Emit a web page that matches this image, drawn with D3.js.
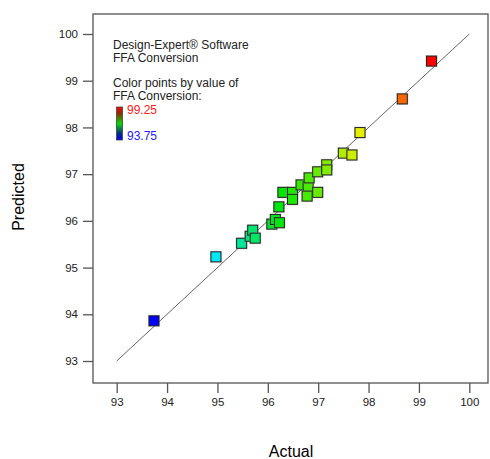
<!DOCTYPE html>
<html>
<head>
<meta charset="utf-8">
<script src="https://cdn.jsdelivr.net/npm/d3@7"></script>
<style>
  body { margin: 0; background: #fff; }
  svg { display: block; font-family: "Liberation Sans", Arial, sans-serif; }
</style>
</head>
<body>
<div id="chart"></div>
<script>
// actual vs predicted FFA conversion
var actual = [93.74, 94.97, 95.48, 95.65, 95.70, 95.75, 96.08, 96.15, 96.23, 96.22,
              96.30, 96.49, 96.49, 96.66, 96.80, 96.82, 96.78, 96.99, 96.99, 97.17,
              97.17, 97.50, 97.67, 97.83, 98.67, 99.25];
var predicted = [93.86, 95.23, 95.52, 95.67, 95.80, 95.63, 95.93, 96.03, 95.96, 96.30,
                 96.61, 96.61, 96.46, 96.77, 96.73, 96.92, 96.53, 96.61, 97.05, 97.20,
                 97.09, 97.45, 97.41, 97.89, 98.61, 99.42];
var ticks = [93, 94, 95, 96, 97, 98, 99, 100];
var colorStops = [93.75, 94.95, 96.3, 97.9, 99.25];
var colorNames = ["#0000ff", "#00e8ff", "#00e600", "#eef000", "#ff0000"];

var width = 490, height = 459;
var frame = {left: 93, top: 14, right: 488, bottom: 383};

var svg = d3.select("#chart").append("svg")
    .attr("width", width)
    .attr("height", height);

var x = d3.scaleLinear().domain([93, 100]).range([116.7, 469.3]);
var y = d3.scaleLinear().domain([93, 100]).range([361, 34]);
var color = d3.scaleLinear().domain(colorStops).range(colorNames);

// frame
svg.append("rect")
    .attr("x", frame.left).attr("y", frame.top)
    .attr("width", frame.right - frame.left).attr("height", frame.bottom - frame.top)
    .attr("fill", "none").attr("stroke", "#555").attr("stroke-width", 1.3);

// axes
var xAxis = svg.append("g")
    .attr("transform", "translate(0," + frame.bottom + ")")
    .call(d3.axisBottom(x).tickValues(ticks).tickSize(10).tickPadding(5).tickFormat(d3.format("d")));
var yAxis = svg.append("g")
    .attr("transform", "translate(" + frame.left + ",0)")
    .call(d3.axisLeft(y).tickValues(ticks).tickSize(10).tickPadding(5).tickFormat(d3.format("d")));

[xAxis, yAxis].forEach(function(g){
  g.select(".domain").remove();
  g.selectAll(".tick line").attr("stroke", "#555").attr("stroke-width", 1.3);
  g.selectAll(".tick text").attr("fill", "#222").style("font-size", "11.5px")
      .style("font-family", "Liberation Sans, Arial, sans-serif");
});

// axis titles
svg.append("text")
    .attr("x", 291).attr("y", 457)
    .attr("text-anchor", "middle")
    .style("font-size", "16px")
    .text("Actual");
svg.append("text")
    .attr("transform", "translate(24,197) rotate(-90)")
    .attr("text-anchor", "middle")
    .style("font-size", "16px")
    .text("Predicted");

// 45 degree line
svg.append("line")
    .attr("x1", x(93)).attr("y1", y(93))
    .attr("x2", x(100)).attr("y2", y(100))
    .attr("stroke", "#555").attr("stroke-width", 0.9);

// points
var pts = svg.append("g").selectAll("g")
    .data(actual.map(function(a, i){ return {a: a, p: predicted[i]}; }))
    .enter().append("g")
    .attr("transform", function(d){ return "translate(" + x(d.a) + "," + y(d.p) + ")"; });
pts.append("rect")
    .attr("x", -6).attr("y", -6).attr("width", 12).attr("height", 12)
    .attr("fill", "#999").attr("opacity", 0.45);
pts.append("rect")
    .attr("x", -5).attr("y", -5).attr("width", 10).attr("height", 10)
    .attr("fill", function(d){ return color(d.a); })
    .attr("stroke", "#222").attr("stroke-width", 1);

// legend text
var legend = [
  {t: "Design-Expert\u00ae Software", y: 49},
  {t: "FFA Conversion", y: 62},
  {t: "Color points by value of", y: 87},
  {t: "FFA Conversion:", y: 100}
];
svg.append("g").selectAll("text").data(legend).enter().append("text")
    .attr("x", 113).attr("y", function(d){ return d.y; })
    .style("font-size", "12px").attr("fill", "#222")
    .text(function(d){ return d.t; });

var grad = svg.append("defs").append("linearGradient")
    .attr("id", "bar").attr("x1", 0).attr("y1", 0).attr("x2", 0).attr("y2", 1);
[["0%", "#ff0000"], ["20%", "#8a3000"], ["50%", "#00dd00"], ["80%", "#003080"], ["100%", "#0000ff"]]
  .forEach(function(s){ grad.append("stop").attr("offset", s[0]).attr("stop-color", s[1]); });
svg.append("rect")
    .attr("x", 116.5).attr("y", 107).attr("width", 6).attr("height", 33)
    .attr("fill", "url(#bar)").attr("stroke", "#444").attr("stroke-width", 0.8);
svg.append("text").attr("x", 127).attr("y", 114)
    .style("font-size", "12px").attr("fill", "#ff2020").text(colorStops[colorStops.length - 1].toFixed(2));
svg.append("text").attr("x", 127).attr("y", 139.5)
    .style("font-size", "12px").attr("fill", "#2020ff").text(colorStops[0].toFixed(2));
</script>
</body>
</html>
